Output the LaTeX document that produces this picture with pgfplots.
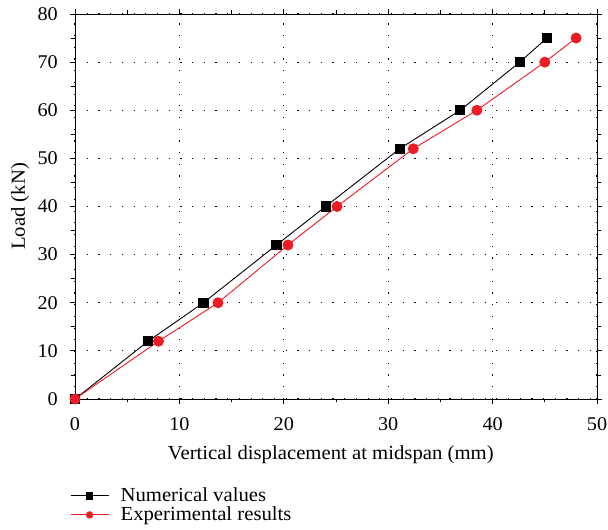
\documentclass[border=0pt]{standalone}
\usepackage{fontspec}
\setmainfont{Liberation Serif}[FakeStretch=1.04]
\usepackage{pgfplots}
\pgfplotsset{compat=1.18}
\definecolor{expred}{RGB}{237,28,36}

\begin{document}
\begin{tikzpicture}[x=1bp,y=1bp]
\useasboundingbox (-75,-131) rectangle (533,399);
\begin{axis}[
    scale only axis,
    width=522bp, height=385bp,
    xmin=0, xmax=50, ymin=0, ymax=80,
    xtick={0,10,...,50}, ytick={0,10,...,80},
    minor x tick num=1, minor y tick num=1,
    tick align=outside,
    major tick length=5bp, minor tick length=3.5bp,
    tick style={black, line width=0.8bp},
    axis line style={line width=0.9bp},
    grid=major,
    major grid style={black, line width=1.1bp, dash pattern=on 1.2bp off 10.5bp},
    /pgf/number format/assume math mode=true,
    ticklabel style={font=\fontsize{19.5}{22}\selectfont},
    xticklabel style={yshift=-10.4bp},
    yticklabel style={xshift=-8.7bp},
    label style={font=\fontsize{20}{23}\selectfont},
    xlabel={Vertical displacement at midspan (mm)},
    ylabel={Load (kN)},
    xlabel style={at={(axis description cs:0.49,-0.1584)}, anchor=base},
    ylabel style={at={(axis description cs:-0.0958,0.5)}, anchor=base},
    legend cell align=left,
    legend style={draw=none, fill=none, inner sep=0bp,
        at={(axis description cs:-0.0096,-0.2265)}, anchor=north west,
        font=\fontsize{20}{23}\selectfont, column sep=11bp,
        nodes={inner sep=0.5bp, text height=15bp, text depth=3bp}},
    legend image code/.code={
        \draw[mark repeat=2, mark phase=2, #1, mark size=3.2bp]
        plot coordinates {(0bp,0bp) (19bp,0bp) (38bp,0bp)};},
]
\addplot[black, line width=0.9bp, mark=square*, mark size=4.6bp, mark options={solid}]
coordinates {(0,0) (7,12) (12.3,20) (19.3,32) (24,40) (31.1,52) (36.9,60) (42.6,70) (45.2,75)};
\addlegendentry{Numerical values}
\addplot[expred, line width=0.9bp, mark=*, mark size=5bp, mark options={solid, fill=expred}]
coordinates {(0,0) (8,12) (13.7,20) (20.4,32) (25.1,40) (32.4,52) (38.5,60) (45,70) (48,75)};
\addlegendentry{Experimental results}
\end{axis}
\end{tikzpicture}
\end{document}
